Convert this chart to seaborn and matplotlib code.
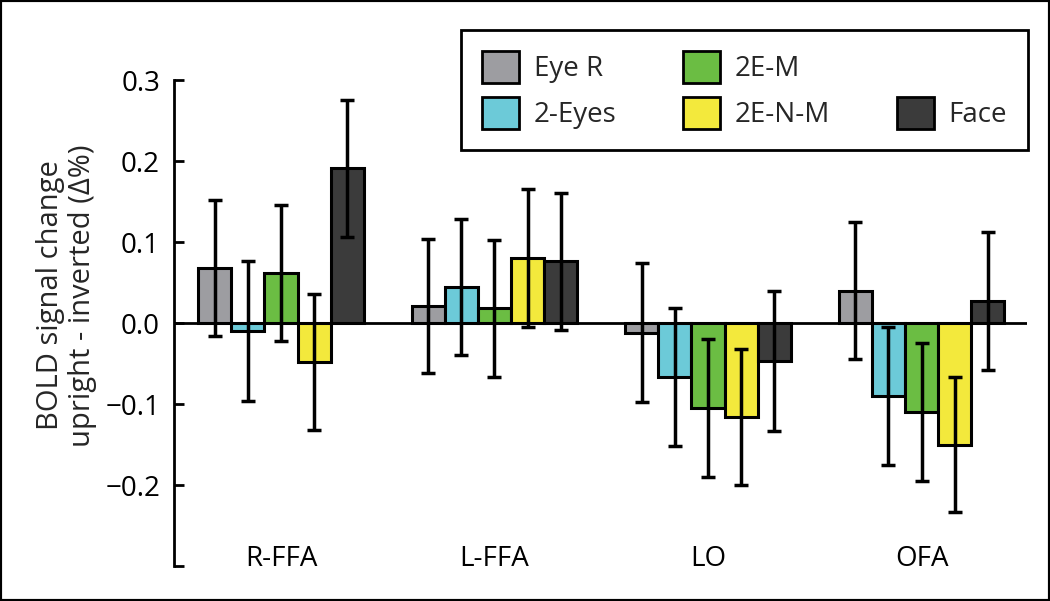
import matplotlib
matplotlib.use('Agg')

import matplotlib.pyplot as plt
import pandas as pd
import seaborn as sns
from matplotlib.patches import Patch, Rectangle

regions = ['R-FFA', 'L-FFA', 'LO', 'OFA']
conditions = ['Eye R', '2-Eyes', '2E-M', '2E-N-M', 'Face']
colors = ['#9d9da1', '#6ccad8', '#6bbd43', '#f3e93c', '#3b3b3b']

# mean differences (upright - inverted) per region
eye_r = [0.068, 0.021, -0.012, 0.040]
two_eyes = [-0.010, 0.045, -0.067, -0.090]
two_e_m = [0.062, 0.018, -0.105, -0.110]
two_e_n_m = [-0.048, 0.080, -0.116, -0.150]
face = [0.191, 0.076, -0.047, 0.027]

# error bar half-lengths
err_eye_r = [0.084, 0.083, 0.086, 0.085]
err_two_eyes = [0.086, 0.084, 0.085, 0.085]
err_two_e_m = [0.084, 0.085, 0.085, 0.085]
err_two_e_n_m = [0.084, 0.085, 0.084, 0.083]
err_face = [0.085, 0.085, 0.086, 0.085]

means = [eye_r, two_eyes, two_e_m, two_e_n_m, face]
errs = [err_eye_r, err_two_eyes, err_two_e_m, err_two_e_n_m, err_face]

df = pd.DataFrame({
    'region': regions * len(conditions),
    'condition': [c for c in conditions for _ in regions],
    'value': [v for m in means for v in m],
    'err': [e for es in errs for e in es],
})

sns.set_style('white')
plt.rcParams['font.family'] = ['Open Sans', 'DejaVu Sans']

fig = plt.figure(figsize=(10.5, 6.01), dpi=100)
ax = fig.add_axes([174 / 1050, (601 - 566) / 601, (1027 - 174) / 1050, (566 - 25) / 601])

sns.barplot(data=df, x='region', y='value', hue='condition',
            order=regions, hue_order=conditions, palette=colors,
            errorbar=None, width=0.775, saturation=1,
            edgecolor='black', linewidth=2.2, legend=False, ax=ax)

# error bars on top of each bar
for cont, cond in zip(ax.containers, conditions):
    sub = df[df['condition'] == cond].set_index('region').loc[regions]
    for bar, (val, err) in zip(cont, zip(sub['value'], sub['err'])):
        x = bar.get_x() + bar.get_width() / 2
        ax.errorbar(x, val, yerr=err, fmt='none', ecolor='black',
                    elinewidth=2.5, capsize=5, capthick=2.5, zorder=5)

ax.axhline(0, color='black', lw=2, zorder=4)

ax.set_xlim(-0.501, 3.494)
ax.set_ylim(-0.3, 0.368)
ax.set_yticks([-0.2, -0.1, 0.0, 0.1, 0.2, 0.3])
ax.set_yticks([-0.3], minor=True)

for side in ['top', 'right', 'bottom']:
    ax.spines[side].set_visible(False)
ax.spines['left'].set_bounds(-0.3, 0.3)
ax.spines['left'].set_linewidth(2)
ax.spines['left'].set_color('black')

ax.tick_params(axis='y', which='both', left=True, direction='in', length=7,
               width=2, labelsize=20, pad=10, colors='black')
ax.tick_params(axis='x', bottom=True, length=0, labelsize=20, pad=-15,
               colors='black')

ax.set_xlabel('')
ax.set_ylabel('BOLD signal change\nupright - inverted (Δ%)', fontsize=21,
              linespacing=1.15, labelpad=6)

handles = [Patch(facecolor=c, edgecolor='black', linewidth=2) for c in colors[:4]]
handles.append(Patch(facecolor='none', edgecolor='none'))
handles.append(Patch(facecolor=colors[4], edgecolor='black', linewidth=2))
labels = conditions[:4] + [''] + [conditions[4]]

leg = ax.legend(handles, labels, ncol=3, loc='upper right',
                bbox_to_anchor=(1028 / 1050, 1 - 30 / 601),
                bbox_transform=fig.transFigure, borderaxespad=0,
                fontsize=20, frameon=True, fancybox=False, framealpha=1,
                handlelength=1.32, handleheight=1.4, handletextpad=0.54,
                columnspacing=2.4, labelspacing=0.5, borderpad=0.75)
leg.get_frame().set_edgecolor('black')
leg.get_frame().set_linewidth(2)

fig.patches.append(Rectangle((0, 0), 1, 1, transform=fig.transFigure,
                             fill=False, edgecolor='black', linewidth=3))

fig.savefig('out.png', dpi=100)
